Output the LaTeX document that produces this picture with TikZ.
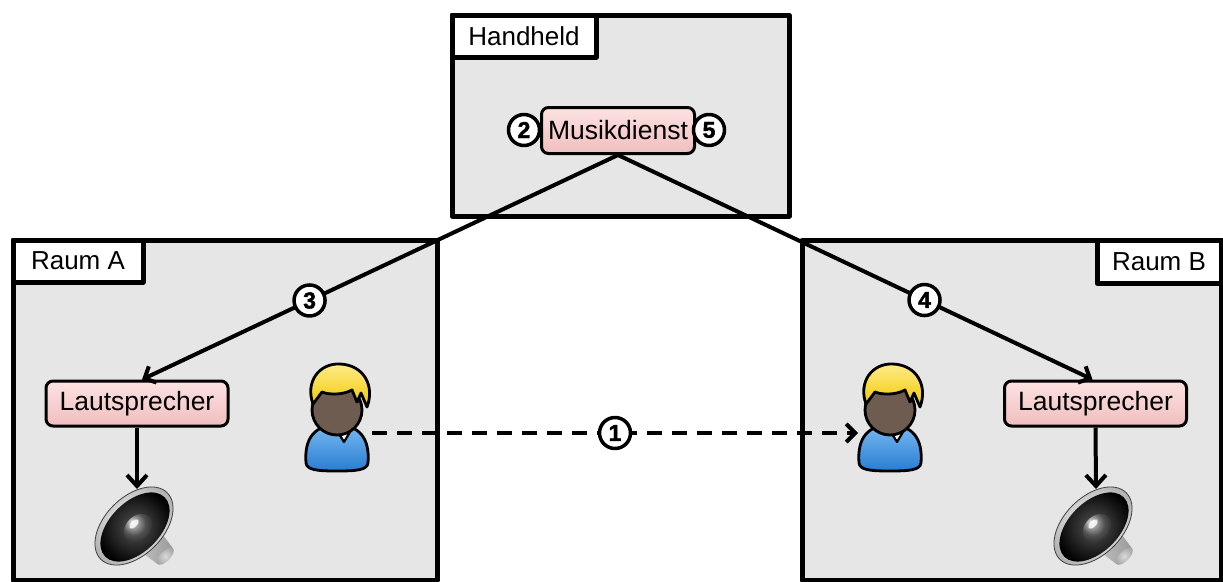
\documentclass[tikz,border=0pt]{standalone}
\usepackage{fontspec}
\setmainfont{Liberation Sans}
\newfontfamily\numfont[FakeBold=1.8]{Liberation Sans}
\usetikzlibrary{arrows.meta,calc,shadings}

\definecolor{roomgray}{RGB}{230,230,230}
\definecolor{pinktop}{RGB}{253,226,226}
\definecolor{pinkbot}{RGB}{240,190,190}
\definecolor{skin}{RGB}{110,92,80}
\definecolor{hairtop}{RGB}{255,236,140}
\definecolor{hairbot}{RGB}{240,200,0}
\definecolor{shirttop}{RGB}{120,185,240}
\definecolor{shirtbot}{RGB}{40,125,210}

\tikzset{
  pics/person/.style={code={
    % body with shirt
    \draw[line width=2.8pt, top color=shirttop, bottom color=shirtbot]
      (-31,55) .. controls (-33,30) and (-22,17) .. (0,17)
      .. controls (22,17) and (33,30) .. (31,55)
      .. controls (30,62) and (20,63) .. (0,63)
      .. controls (-20,63) and (-30,62) .. (-31,55) -- cycle;
    % collar
    \draw[line width=2.2pt, fill=white] (-1,21) -- (16,19) -- (7,34) -- cycle;
    % head
    \draw[line width=2.8pt, fill=skin] (0,2) circle [radius=25];
    % hair
    \draw[line width=2.8pt, top color=hairtop, bottom color=hairbot]
      (-24,-4) .. controls (-32,-26) and (-18,-45) .. (3,-44)
      .. controls (27,-43) and (38,-22) .. (30,-1)
      -- (24,-15) -- (20,-6) -- (15,-18)
      .. controls (6,-13) and (-8,-13) .. (-15,-16) -- cycle;
  }},
  pics/speaker/.style={code={
    % magnet housing behind the cone (y of the rotated frame points down-right)
    \begin{scope}[rotate=45]
      \shade[left color=gray!35, right color=gray!80]
        (-17,0) -- (-11,40) -- (11,40) -- (17,0) -- cycle;
      \shade[inner color=gray!30, outer color=gray!70]
        (0,40) ellipse [x radius=11, y radius=5];
    \end{scope}
    % rim
    \shade[draw=gray!50!black, line width=0.8pt, inner color=white, outer color=gray!60,
           shift={(-3,-2)}, rotate=45]
      (0,0) ellipse [x radius=47, y radius=29];
    % cone
    \shade[inner color=gray!65!black, outer color=black, shift={(-2,-1)}, rotate=45]
      (0,0) ellipse [x radius=42, y radius=25];
    % dust cap
    \shade[ball color=black!55, shift={(1,0)}, rotate=45]
      (0,0) ellipse [x radius=16, y radius=12];
    \fill[white, opacity=0.8, shift={(-3,-4)}, rotate=45]
      (0,0) ellipse [x radius=6, y radius=3];
  }}
}

\begin{document}
\begin{tikzpicture}[x=1pt, y=-1pt, line join=round,
  room/.style={draw, line width=5pt, fill=roomgray, inner sep=0pt, anchor=north west},
  tag/.style={draw, line width=5pt, fill=white, inner sep=0pt, anchor=north west,
              font=\fontsize{26}{30}\selectfont},
  svc/.style={draw, line width=3pt, rounded corners=7pt, top color=pinktop,
              bottom color=pinkbot, inner sep=0pt, font=\fontsize{26.5}{30}\selectfont},
  num/.style={circle, draw, solid, line width=3.5pt, fill=white, inner sep=0pt,
              minimum size=31pt, font=\fontsize{23}{24}\numfont\bfseries},
  link/.style={line width=4pt, -{Straight Barb[length=9pt,width=18pt]}},
  drop/.style={line width=4pt, -{Straight Barb[length=11pt,width=20pt]}},
]
\useasboundingbox (0,0) rectangle (1223,581);

% rooms
\node[room, minimum width=337, minimum height=201] (hh) at (449.5,12.5) {};
\node[room, minimum width=424, minimum height=340] (ra) at (10.5,237.5) {};
\node[room, minimum width=419, minimum height=340] (rb) at (799.5,237.5) {};

% room titles
\node[tag, minimum width=144, minimum height=42] (hhtag) at (449.5,12.5) {Handheld};
\node[tag, minimum width=130, minimum height=42] (ratag) at (10.5,237.5) {Raum A};
\node[tag, minimum width=124, minimum height=43] (rbtag) at (1094.5,237.5) {Raum B};

% services
\node[svc, minimum width=153, minimum height=46] (md) at (618,130.5) {Musikdienst};
\node[svc, minimum width=182, minimum height=45] (lsa) at (137,403.5) {Lautsprecher};
\node[svc, minimum width=182, minimum height=45] (lsb) at (1095.5,403.5) {Lautsprecher};

\node[num] (n2) at (524,130) {2};
\node[num] (n5) at (709,130) {5};

% speakers and listeners
\pic at (137,528) {speaker};
\pic at (1096,528) {speaker};
\coordinate (spka) at (137,489);
\coordinate (spkb) at (1096,489);

\pic at (337,408) {person};
\pic at (890,408) {person};
\coordinate (pa) at (372,433);
\coordinate (pb) at (858,433);

% connectors
\draw[link] (md.south) -- node[num, pos=0.648] (n3) {3} ($(lsa.north)+(5,0)$);
\draw[link] (md.south) -- node[num, pos=0.646] (n4) {4} ($(lsb.north)+(-3,0)$);
\draw[drop] (lsa.south) -- (spka);
\draw[drop] (lsb.south) -- (spkb);
\draw[line width=4pt, dash pattern=on 15pt off 10pt,
      -{Straight Barb[length=9pt,width=18pt]}]
  (pa) -- node[num] (n1) {1} (pb);
\end{tikzpicture}
\end{document}
